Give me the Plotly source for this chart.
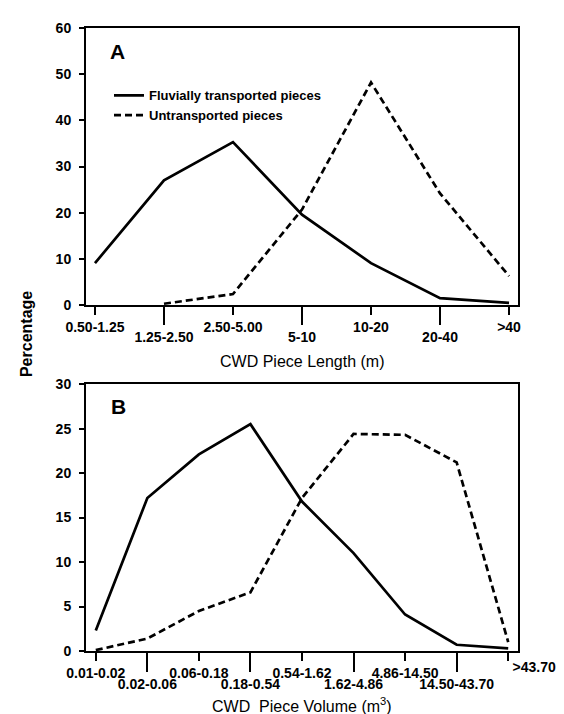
import plotly.graph_objects as go

# ---------------- data ----------------
length_classes = ["0.50-1.25", "1.25-2.50", "2.50-5.00", "5-10", "10-20", "20-40", ">40"]
fluvial_length = [9.1, 27.0, 35.3, 19.6, 9.1, 1.5, 0.5]
untrans_length = [None, 0.3, 2.4, 20.7, 48.2, 24.2, 6.3]

volume_classes = ["0.01-0.02", "0.02-0.06", "0.06-0.18", "0.18-0.54", "0.54-1.62",
                  "1.62-4.86", "4.86-14.50", "14.50-43.70", ">43.70"]
fluvial_volume = [2.3, 17.2, 22.1, 25.5, 16.8, 11.0, 4.1, 0.7, 0.3]
untrans_volume = [0.1, 1.4, 4.5, 6.6, 17.2, 24.4, 24.3, 21.2, 1.0]

series_names = ["Fluvially transported pieces", "Untransported pieces"]

FONT = "Liberation Sans, Arial, Helvetica, sans-serif"
W, H = 564, 714
ML, MR, MT, MB = 78, 54, 12, 71
PH = H - MT - MB

def py(px):  # pixel y -> paper y
    return (H - MB - px) / PH

def pxx(px):  # pixel x -> paper x
    return (px - ML) / (W - ML - MR)

xa = list(range(len(length_classes)))
xb = list(range(len(volume_classes)))

fig = go.Figure()
solid = dict(color="black", width=2.7)
dashed = dict(color="black", width=2.7, dash="7px,4px")

fig.add_trace(go.Scatter(x=xa, y=fluvial_length, mode="lines", line=solid, name=series_names[0],
                         xaxis="x", yaxis="y", cliponaxis=False))
fig.add_trace(go.Scatter(x=xa, y=untrans_length, mode="lines", line=dashed, name=series_names[1],
                         xaxis="x", yaxis="y", cliponaxis=False))
fig.add_trace(go.Scatter(x=xb, y=fluvial_volume, mode="lines", line=solid, name=series_names[0],
                         xaxis="x2", yaxis="y2", showlegend=False, cliponaxis=False))
fig.add_trace(go.Scatter(x=xb, y=untrans_volume, mode="lines", line=dashed, name=series_names[1],
                         xaxis="x2", yaxis="y2", showlegend=False, cliponaxis=False))

even_a = [i for i in xa if i % 2 == 0]
odd_a = [i for i in xa if i % 2 == 1]
even_b = [i for i in xb if i % 2 == 0]
odd_b = [i for i in xb if i % 2 == 1]
last_b = [xb[-1]]

# invisible carriers so that the overlaid tick axes get drawn
for xs, xname, yname in [(odd_a, "x3", "y"), (odd_b, "x4", "y2"), (last_b, "x5", "y2")]:
    fig.add_trace(go.Scatter(x=xs, y=[None] * len(xs), mode="lines", xaxis=xname, yaxis=yname,
                             showlegend=False, hoverinfo="skip"))

rng_a = [-0.13, len(length_classes) - 1 + 0.13]
rng_b = [-0.19, len(volume_classes) - 1 + 0.19]

tick_a = dict(family=FONT, size=14, color="black", weight=700)
tick_b = dict(family=FONT, size=14, color="black", weight=700)
ytick = dict(family=FONT, size=14, color="black", weight=700)

def base_x(rng, vals, texts, ticklen, font, ticks="outside"):
    return dict(range=rng, tickmode="array", tickvals=vals, ticktext=texts,
                ticks=ticks, ticklen=ticklen, tickwidth=2, tickcolor="black",
                tickfont=font, showgrid=False, zeroline=False, fixedrange=True)

# the last volume class keeps its short tick on the main axis; its label sits on its own axis
even_b_text = [volume_classes[i] if i != xb[-1] else "" for i in even_b]

fig.update_layout(
    width=W, height=H,
    margin=dict(l=ML, r=MR, t=MT, b=MB),
    paper_bgcolor="white", plot_bgcolor="white",
    font=dict(family=FONT, color="black"),
    xaxis=dict(**base_x(rng_a, even_a, [length_classes[i] for i in even_a], 8, tick_a),
               anchor="y", showline=True, linewidth=2, linecolor="black", mirror=True),
    xaxis3=dict(**base_x(rng_a, odd_a, [length_classes[i] for i in odd_a], 19, tick_a),
                anchor="y", overlaying="x", side="bottom", showline=False),
    yaxis=dict(domain=[py(292.7), 1], range=[0, 60], dtick=10, ticks="outside", ticklen=5,
               tickwidth=2, tickcolor="black", tickfont=ytick, showline=True, linewidth=2,
               linecolor="black", mirror=True, showgrid=False, zeroline=False,
               ticklabelstandoff=5, anchor="x"),
    xaxis2=dict(**base_x(rng_b, even_b, even_b_text, 8, tick_b),
                anchor="y2", showline=True, linewidth=2, linecolor="black", mirror=True),
    xaxis4=dict(**base_x(rng_b, odd_b, [volume_classes[i] for i in odd_b], 20, tick_b),
                anchor="y2", overlaying="x2", side="bottom", showline=False),
    xaxis5=dict(**base_x(rng_b, last_b, [volume_classes[i] for i in last_b], 6, tick_b, ticks=""),
                anchor="y2", overlaying="x2", side="bottom", showline=False,
                ticklabelshift=26, ticklabelstandoff=6),
    yaxis2=dict(domain=[0, py(372.7)], range=[0, 30], dtick=5, ticks="outside", ticklen=5,
                tickwidth=2, tickcolor="black", tickfont=ytick, showline=True, linewidth=2,
                linecolor="black", mirror=True, showgrid=False, zeroline=False,
                ticklabelstandoff=5, anchor="x2"),
    legend=dict(x=pxx(101), y=py(65), xanchor="left", yanchor="top",
                bgcolor="rgba(0,0,0,0)", tracegroupgap=0,
                font=dict(family=FONT, size=13, color="black", weight=700)),
    showlegend=True,
)

ann = [
    dict(text="A", xref="paper", yref="paper", x=pxx(100), y=py(36), xanchor="left",
         yanchor="middle", showarrow=False, font=dict(family=FONT, size=21, weight=700)),
    dict(text="B", xref="paper", yref="paper", x=pxx(101), y=py(395), xanchor="left",
         yanchor="middle", showarrow=False, font=dict(family=FONT, size=21, weight=700)),
    dict(text="CWD Piece Length (m)", xref="paper", yref="paper", x=pxx(294), y=py(350),
         xanchor="center", yanchor="middle", showarrow=False, font=dict(family=FONT, size=16)),
    dict(text="CWD  Piece Volume (m<sup>3</sup>)", xref="paper", yref="paper", x=pxx(294), y=py(698),
         xanchor="center", yanchor="middle", showarrow=False, font=dict(family=FONT, size=16)),
    dict(text="Percentage", xref="paper", yref="paper", x=pxx(18), y=py(322), textangle=-90,
         xanchor="center", yanchor="middle", showarrow=False,
         font=dict(family=FONT, size=16, weight=700)),
]
fig.update_layout(annotations=ann)

fig.write_html("out.html")
